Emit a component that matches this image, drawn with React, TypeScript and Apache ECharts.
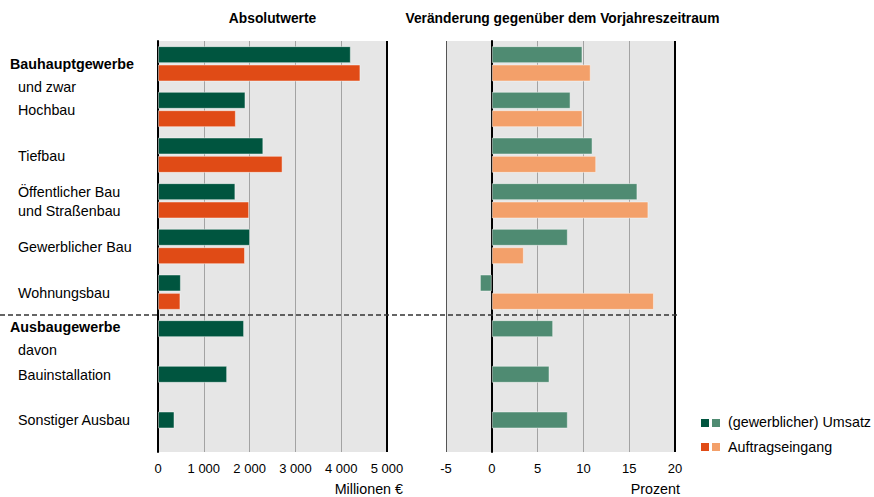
import React, { useEffect, useRef } from "react";
import * as echarts from "echarts";

const categories = [
  "Bauhauptgewerbe",
  "Hochbau",
  "Tiefbau",
  "Öffentlicher Bau\nund Straßenbau",
  "Gewerblicher Bau",
  "Wohnungsbau",
  "Ausbaugewerbe",
  "Bauinstallation",
  "Sonstiger Ausbau",
];
const subNotes = ["und zwar", "", "", "", "", "", "davon", "", ""];
const headingRows = [0, 6];

const umsatzAbs = [4210, 1910, 2300, 1690, 2010, 500, 1880, 1510, 360];
const auftragAbs = [4420, 1700, 2720, 1990, 1900, 490, null, null, null];
const umsatzPct = [9.9, 8.6, 11.0, 15.9, 8.3, -1.3, 6.7, 6.3, 8.3];
const auftragPct = [10.8, 9.9, 11.4, 17.1, 3.5, 17.7, null, null, null];

const absTicks = { min: 0, max: 5000, interval: 1000 };
const pctTicks = { min: -5, max: 20, interval: 5 };

const titles = ["Absolutwerte", "Veränderung gegenüber dem Vorjahreszeitraum"];
const axisNames = ["Millionen €", "Prozent"];
const legendNames = ["(gewerblicher) Umsatz", "Auftragseingang"];

const FONT = "'Liberation Sans', Arial, Helvetica, sans-serif";
const DARK_GREEN = "#00553f";
const LIGHT_GREEN = "#4f8b72";
const DARK_ORANGE = "#e04b16";
const LIGHT_ORANGE = "#f3a06a";

const GRID_TOP = 41;
const GRID_H = 411;
const G1_LEFT = 158;
const G2_LEFT = 446;
const G_W = 229;
const LABEL_FS = 14.3;
const TITLE_FS = 13.8;

function fmtThousands(v: number) {
  return String(v).replace(/\B(?=(\d{3})+(?!\d))/g, " ");
}

export default function App() {
  const ref = useRef<HTMLDivElement>(null);
  useEffect(() => {
    if (!ref.current) return;
    const chart = echarts.init(ref.current, undefined, { renderer: "svg" });
    const band = GRID_H / categories.length;
    const center = (i: number) => GRID_TOP + band * (i + 0.5);
    const hasSecond = (i: number) => auftragAbs[i] != null;

    const labelGraphics: any[] = [];
    categories.forEach((c, i) => {
      const isHead = headingRows.includes(i);
      const note = subNotes[i];
      if (isHead && note) {
        const y = i === 0 ? center(i) : center(i) - 11;
        labelGraphics.push({
          type: "text",
          x: 10,
          y,
          style: { text: c, font: `bold ${LABEL_FS}px ${FONT}`, fill: "#000", textVerticalAlign: "middle" },
        });
        labelGraphics.push({
          type: "text",
          x: 18,
          y: y + 23.5,
          style: { text: note, font: `${LABEL_FS}px ${FONT}`, fill: "#000", textVerticalAlign: "middle" },
        });
      } else {
        const y = hasSecond(i) ? center(i) + 0.5 : center(i) - 9;
        labelGraphics.push({
          type: "text",
          x: 18,
          y,
          style: {
            text: c,
            font: `${LABEL_FS}px ${FONT}`,
            fill: "#000",
            textVerticalAlign: "middle",
            lineHeight: 18.5,
          },
        });
      }
    });

    const barBorder = { borderColor: "rgba(255,255,255,0.45)", borderWidth: 1 };
    const edgeLine = (val: number, color: string, width: number) => ({
      silent: true,
      symbol: ["none", "none"],
      label: { show: false },
      lineStyle: { color, width, type: "solid" },
      data: [{ xAxis: val }],
    });

    const option: any = {
      animation: false,
      textStyle: { fontFamily: FONT },
      grid: [
        { left: G1_LEFT, top: GRID_TOP, width: G_W, height: GRID_H, show: true, backgroundColor: "#e6e6e6", borderWidth: 0 },
        { left: G2_LEFT, top: GRID_TOP, width: G_W, height: GRID_H, show: true, backgroundColor: "#e6e6e6", borderWidth: 0 },
      ],
      xAxis: [
        {
          gridIndex: 0,
          type: "value",
          ...absTicks,
          axisLine: { show: false },
          axisTick: { show: false },
          axisLabel: { color: "#000", fontSize: 13, margin: 10, formatter: (v: number) => fmtThousands(v) },
          splitLine: { show: true, lineStyle: { color: "#a3a3a3", width: 1 } },
        },
        {
          gridIndex: 1,
          type: "value",
          ...pctTicks,
          axisLine: { show: false },
          axisTick: { show: false },
          axisLabel: { color: "#000", fontSize: 13, margin: 10 },
          splitLine: {
            show: true,
            lineStyle: { color: ["#555555", "#000000", "#a3a3a3", "#a3a3a3", "#a3a3a3", "#000000"], width: 1 },
          },
        },
      ],
      yAxis: [
        {
          gridIndex: 0,
          type: "category",
          data: categories,
          inverse: true,
          axisLine: { show: true, lineStyle: { color: "#000", width: 2 } },
          axisTick: { show: false },
          axisLabel: { show: false },
          splitLine: { show: false },
        },
        {
          gridIndex: 1,
          type: "category",
          data: categories,
          inverse: true,
          axisLine: { show: true, onZero: true, lineStyle: { color: "#000", width: 2 } },
          axisTick: { show: false },
          axisLabel: { show: false },
          splitLine: { show: false },
        },
      ],
      series: [
        {
          name: legendNames[0],
          type: "bar",
          xAxisIndex: 0,
          yAxisIndex: 0,
          data: umsatzAbs,
          barWidth: 17,
          barGap: "8%",
          itemStyle: { color: DARK_GREEN, ...barBorder },
          markLine: edgeLine(absTicks.max, "#000", 2),
        },
        {
          name: legendNames[1],
          type: "bar",
          xAxisIndex: 0,
          yAxisIndex: 0,
          data: auftragAbs,
          barWidth: 17,
          barGap: "8%",
          itemStyle: { color: DARK_ORANGE, ...barBorder },
        },
        {
          name: legendNames[0] + " %",
          type: "bar",
          xAxisIndex: 1,
          yAxisIndex: 1,
          data: umsatzPct,
          barWidth: 17,
          barGap: "8%",
          itemStyle: { color: LIGHT_GREEN, ...barBorder },
          markLine: edgeLine(pctTicks.max, "#000", 2),
        },
        {
          name: legendNames[1] + " %",
          type: "bar",
          xAxisIndex: 1,
          yAxisIndex: 1,
          data: auftragPct,
          barWidth: 17,
          barGap: "8%",
          itemStyle: { color: LIGHT_ORANGE, ...barBorder },
        },
      ],
      graphic: [
        {
          type: "text",
          x: G1_LEFT + G_W / 2,
          y: 18,
          style: { text: titles[0], font: `bold ${TITLE_FS}px ${FONT}`, fill: "#000", textAlign: "center", textVerticalAlign: "middle" },
        },
        {
          type: "text",
          x: G2_LEFT + G_W / 2 + 2,
          y: 18,
          style: { text: titles[1], font: `bold ${TITLE_FS}px ${FONT}`, fill: "#000", textAlign: "center", textVerticalAlign: "middle" },
        },
        ...labelGraphics,
        {
          type: "line",
          shape: { x1: 0, y1: GRID_TOP + band * 6, x2: 680, y2: GRID_TOP + band * 6 },
          style: { stroke: "#333", lineWidth: 1.5, lineDash: [5, 3] },
          z: 100,
        },
        {
          type: "text",
          x: 403,
          y: 489,
          style: { text: axisNames[0], font: `${LABEL_FS}px ${FONT}`, fill: "#000", textAlign: "right", textVerticalAlign: "middle" },
        },
        {
          type: "text",
          x: 680,
          y: 489,
          style: { text: axisNames[1], font: `${LABEL_FS}px ${FONT}`, fill: "#000", textAlign: "right", textVerticalAlign: "middle" },
        },
        { type: "rect", shape: { x: 701, y: 419, width: 8, height: 8 }, style: { fill: DARK_GREEN } },
        { type: "rect", shape: { x: 712, y: 419, width: 8, height: 8 }, style: { fill: LIGHT_GREEN } },
        {
          type: "text",
          x: 728,
          y: 422,
          style: { text: legendNames[0], font: `${LABEL_FS}px ${FONT}`, fill: "#000", textVerticalAlign: "middle" },
        },
        { type: "rect", shape: { x: 701, y: 443, width: 8, height: 8 }, style: { fill: DARK_ORANGE } },
        { type: "rect", shape: { x: 712, y: 443, width: 8, height: 8 }, style: { fill: LIGHT_ORANGE } },
        {
          type: "text",
          x: 728,
          y: 447,
          style: { text: legendNames[1], font: `${LABEL_FS}px ${FONT}`, fill: "#000", textVerticalAlign: "middle" },
        },
      ],
    };
    chart.setOption(option);
    return () => chart.dispose();
  }, []);
  return (
    <div
      ref={ref}
      style={{ position: "fixed", left: 0, top: 0, width: 874, height: 497, background: "#fff" }}
    />
  );
}
